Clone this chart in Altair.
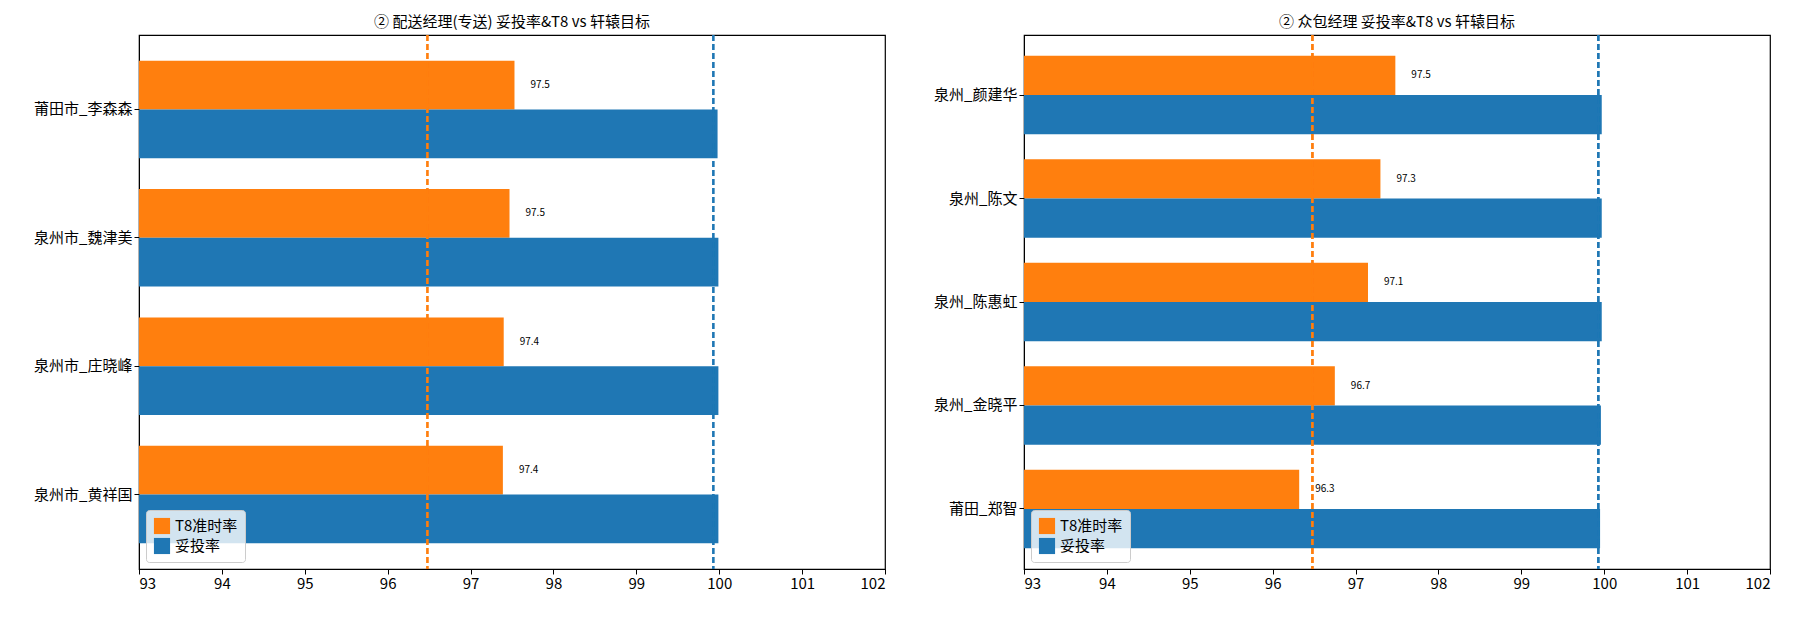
import altair as alt
import pandas as pd

FONT = "Noto Sans CJK SC"
ORANGE = "#ff7f0e"
BLUE = "#1f77b4"

# panel 1: 配送经理(专送)
names1 = ["莆田市_李森森", "泉州市_魏津美", "泉州市_庄晓峰", "泉州市_黄祥国"]
t8_1 = [97.53, 97.47, 97.40, 97.39]
tt_1 = [99.98, 99.99, 99.99, 99.99]
labels1 = ["97.5", "97.5", "97.4", "97.4"]

# panel 2: 众包经理
names2 = ["泉州_颜建华", "泉州_陈文", "泉州_陈惠虹", "泉州_金晓平", "莆田_郑智"]
t8_2 = [97.48, 97.30, 97.15, 96.75, 96.32]
tt_2 = [99.97, 99.97, 99.97, 99.96, 99.95]
labels2 = ["97.5", "97.3", "97.1", "96.7", "96.3"]

target_t8 = 96.48
target_tt = 99.93

series = ["T8准时率", "妥投率"]


def panel(names, t8, tt, labels, title):
    df = pd.DataFrame({
        "name": names * 2,
        "series": [series[0]] * len(names) + [series[1]] * len(names),
        "value": t8 + tt,
        "label": labels + [""] * len(names),
    })
    x = alt.X("value:Q", scale=alt.Scale(domain=[93, 102], clamp=True, nice=False),
              axis=alt.Axis(title=None, values=list(range(93, 103)), format="d", grid=False,
                            labelFontSize=15, tickColor="black", domainColor="black",
                            labelColor="black", labelFont=FONT))
    y = alt.Y("name:N", sort=names,
              scale=alt.Scale(paddingInner=0.24, paddingOuter=0.2),
              axis=alt.Axis(title=None, labelFontSize=15, labelColor="black",
                            tickColor="black", domainColor="black", minExtent=130,
                            labelFont=FONT))
    base = alt.Chart(df).encode(
        y=y,
        yOffset=alt.YOffset("series:N", sort=series),
    )
    bars = base.mark_bar(clip=True).encode(
        x=x,
        x2=alt.datum(93),
        color=alt.Color("series:N", sort=series,
                        scale=alt.Scale(domain=series, range=[ORANGE, BLUE]),
                        legend=alt.Legend(title=None, orient="bottom-left",
                                          symbolType="square", symbolSize=260,
                                          labelFontSize=15, labelFont=FONT,
                                          fillColor="rgba(255,255,255,0.8)",
                                          strokeColor="#cccccc", padding=7,
                                          cornerRadius=3, offset=7)),
    )
    text = base.mark_text(align="left", dx=16, fontSize=10, font=FONT, color="black").encode(
        x=alt.X("value:Q"), text="label:N")
    r1 = alt.Chart(df).mark_rule(strokeDash=[6, 3], color=ORANGE, strokeWidth=1.4).encode(
        x=alt.datum(target_t8))
    r2 = alt.Chart(df).mark_rule(strokeDash=[6, 3], color=BLUE, strokeWidth=1.4).encode(
        x=alt.datum(target_tt))
    return alt.layer(bars, r1, r2, text).properties(
        width=746, height=534,
        title=alt.Title(title, fontSize=15, fontWeight="normal", font=FONT, color="black"),
    )


left = panel(names1, t8_1, tt_1, labels1, "② 配送经理(专送) 妥投率&T8 vs 轩辕目标")
right = panel(names2, t8_2, tt_2, labels2, "② 众包经理 妥投率&T8 vs 轩辕目标")

chart = alt.hconcat(left, right, spacing=6).resolve_scale(
    color="independent", y="independent", yOffset="independent"
).configure(
    font=FONT, padding={"left": 0, "top": 6, "right": 5, "bottom": 5}
).configure_view(stroke="black", strokeWidth=1.2)

chart.save("out.html", embed_options={"renderer": "svg", "actions": False})
